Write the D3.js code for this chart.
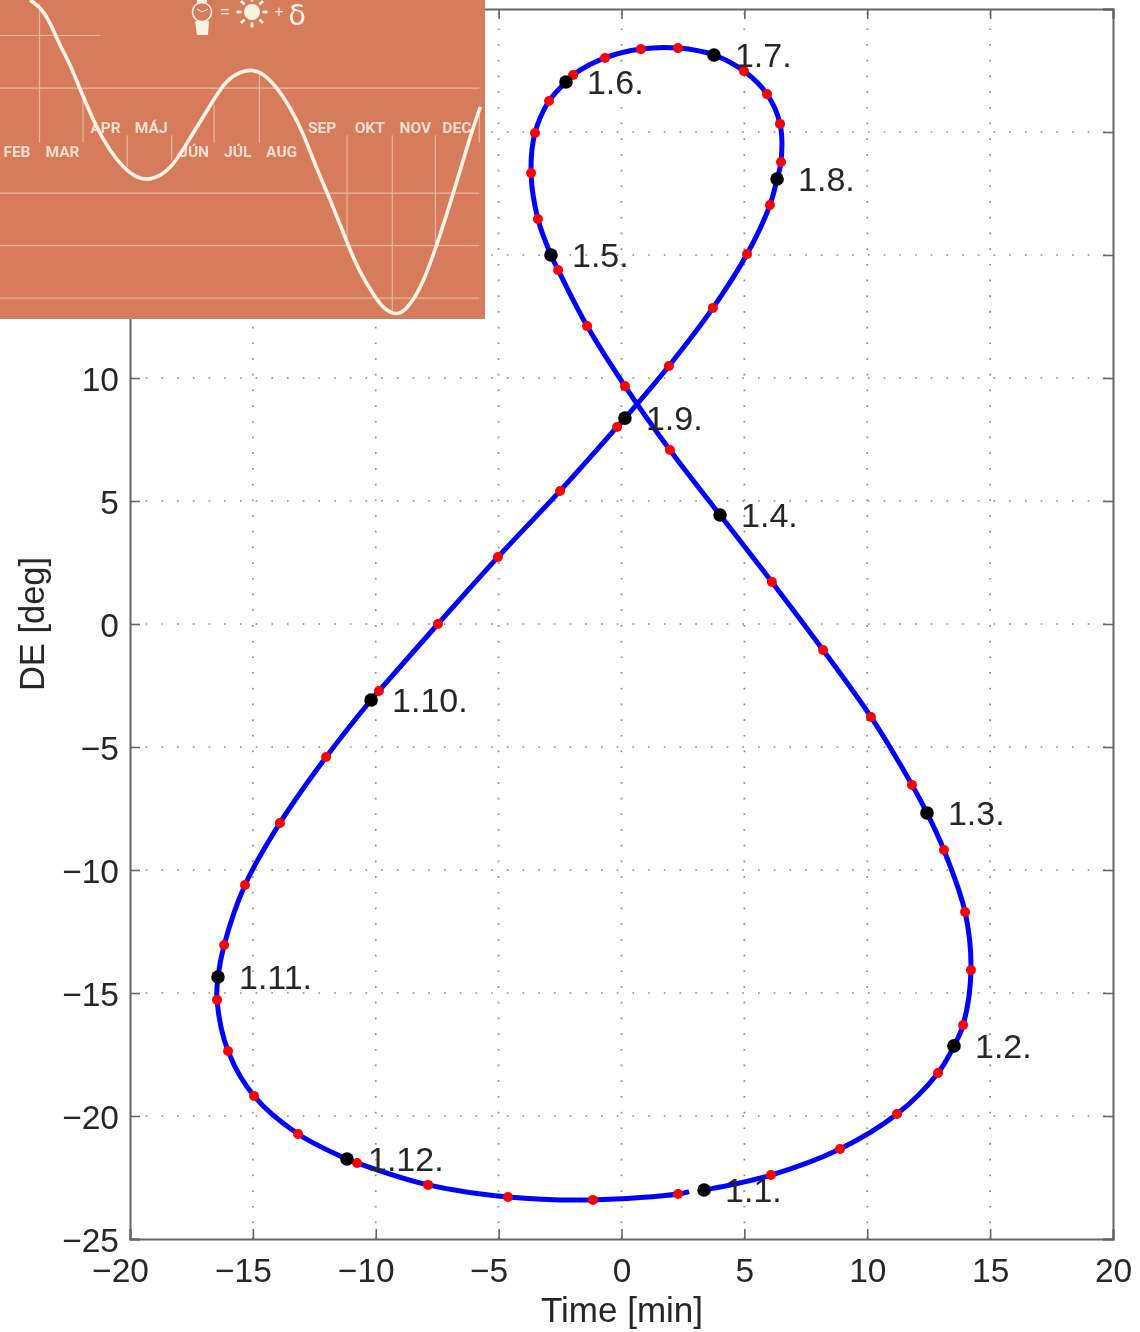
<!DOCTYPE html>
<html><head><meta charset="utf-8">
<script src="https://cdnjs.cloudflare.com/ajax/libs/d3/7.8.5/d3.min.js"></script>
<style>html,body{margin:0;padding:0;background:#fff}svg{display:block}</style>
</head><body><div id="c"></div>
<script>
// Main analemma curve, in calendar order starting at 1.1.; the line stops just short of 1.1. on its way back.
const curveTime=[3.36,6.08,8.89,11.21,12.88,13.53,13.90,14.22,13.98,13.12,12.43,11.82,10.15,8.20,6.12,4.01,1.97,0.14,-1.40,-2.58,-2.87,-3.40,-3.68,-3.52,-2.95,-2.26,-1.97,-0.67,0.79,2.30,3.76,4.98,5.92,6.45,6.49,6.33,6.04,5.11,3.72,1.93,0.14,-0.18,-2.50,-5.03,-7.47,-9.87,-10.19,-12.02,-13.90,-15.32,-16.17,-16.42,-16.46,-16.01,-14.95,-13.16,-11.17,-10.76,-7.87,-4.62,-1.16,2.30,2.75];
const curveDe=[-23.01,-22.40,-21.34,-19.92,-18.25,-17.15,-16.30,-14.07,-11.71,-9.19,-7.68,-6.54,-3.78,-1.06,1.71,4.43,7.07,9.67,12.11,14.39,15.00,16.46,18.33,19.96,21.26,22.03,22.32,23.01,23.37,23.41,23.13,22.48,21.54,20.33,18.78,18.09,17.03,15.04,12.85,10.49,8.37,8.01,5.41,2.72,0,-2.72,-3.09,-5.41,-8.09,-10.61,-13.05,-14.35,-15.28,-17.36,-19.19,-20.73,-21.75,-21.91,-22.80,-23.29,-23.41,-23.17,-23.07];
const blackIndex=[0,5,10,15,20,25,30,35,40,46,51,56];
const blackLabels=["1.1.","1.2.","1.3.","1.4.","1.5.","1.6.","1.7.","1.8.","1.9.","1.10.","1.11.","1.12."];
const xTicks=[-20,-15,-10,-5,0,5,10,15,20];
const yTicks=[-25,-20,-15,-10,-5,0,5,10,15,20,25];
const yTickLabels=["\u221225","\u221220","\u221215","\u221210","\u22125","0","5","10","","",""];
// Inset: equation of time
const eotDay=[53.4,60.4,67.3,74.3,81.2,90.5,99.8,109.1,118.4,126.5,134.6,143.9,153.2,162.5,171.8,181.1,190.3,199.6,207.8,215.9,225.2,234.5,243.7,253.0,262.3,273.9,283.2,292.5,299.5,307.6,315.7,325.0,334.3,343.5,352.8,359.8,366.8];
const eotMin=[-13.38,-12.59,-11.16,-9.10,-7.19,-4.17,-1.32,0.9,2.49,3.36,3.67,3.29,2.17,0.27,-1.79,-3.86,-5.60,-6.46,-6.68,-6.24,-4.97,-3.06,-0.52,2.65,5.67,9.63,12.5,14.65,15.88,16.46,15.88,13.92,10.75,6.94,2.81,-0.37,-3.22];
const monthNames=["FEB","MAR","APR","MÁJ","JÚN","JÚL","AUG","SEP","OKT","NOV","DEC"];
const monthMid=[44.3,76,106,137.7,167.6,197.9,228.5,256.7,289.8,321.5,350.4];
const monthRow=[1,1,0,0,1,1,1,0,0,0,0];
const vDay=[60,90.3,121,152,181.5,213,274,305.5,335.5,366];
const vFrom=[-13,-4,-0.5,-0.5,-3.4,-6.2,-0.5,-0.5,-0.5,-2.9];
const vTo=[0.2,0.2,2.5,1.9,0.2,0.2,10.1,16.3,10.4,0.2];
const hMin=[-10,-5,5,10,15];
const hEndDay=[102,366,366,366,366];

const W=1140,H=1332;
const svg=d3.select("#c").append("svg").attr("width",W).attr("height",H).attr("viewBox",[0,0,W,H]);
const defs=svg.append("defs");
defs.append("filter").attr("id","soft").append("feGaussianBlur").attr("stdDeviation",0.55);
defs.append("filter").attr("id","soft2").append("feGaussianBlur").attr("stdDeviation",0.4);
const font="'Liberation Sans',Arial,sans-serif";
const x=d3.scaleLinear().domain([-20,20]).range([130,1113]);
const y=d3.scaleLinear().domain([-25,25]).range([1239,9]);
const axisCol="#666", txt="#262626";
const main=svg.append("g").attr("filter","url(#soft2)");

// grid
const grid=main.append("g").attr("stroke","#8a8a8a").attr("stroke-width",1.7).attr("stroke-dasharray","1.7 14");
grid.selectAll(".v").data(xTicks.slice(1,-1)).join("line").attr("x1",d=>x(d)).attr("x2",d=>x(d)).attr("y1",y(-25)).attr("y2",y(25));
grid.selectAll(".h").data(yTicks.slice(1,-1)).join("line").attr("x1",x(-20)).attr("x2",x(20)).attr("y1",d=>y(d)).attr("y2",d=>y(d));

// axes (bottom+left with labels, top+right ticks only)
function style(g){g.select(".domain").attr("stroke",axisCol).attr("stroke-width",2);g.selectAll(".tick line").attr("stroke",axisCol).attr("stroke-width",1.6);}
const fmt=d=>String(d).replace("-","\u2212");
main.append("g").attr("transform",`translate(0,${y(-25)})`).call(d3.axisBottom(x).tickValues(xTicks).tickSize(-10).tickPadding(0).tickFormat(fmt)).call(style)
 .call(g=>g.selectAll("text").attr("font-family",font).attr("font-size",33.5).attr("fill",txt).attr("dy",0).attr("y",43).attr("dx",d=>d<0?-10:0));
main.append("g").attr("transform",`translate(0,${y(25)})`).call(d3.axisTop(x).tickValues(xTicks).tickSize(-10).tickFormat("")).call(style);
main.append("g").attr("transform",`translate(${x(-20)},0)`).call(d3.axisLeft(y).tickValues(yTicks).tickSize(-10).tickPadding(0).tickFormat((d,i)=>yTickLabels[i])).call(style)
 .call(g=>g.selectAll("text").attr("font-family",font).attr("font-size",33.5).attr("fill",txt).attr("x",-11).attr("dy","0.36em"));
main.append("g").attr("transform",`translate(${x(20)},0)`).call(d3.axisRight(y).tickValues(yTicks).tickSize(-10).tickFormat("")).call(style);

// curve
const line=d3.line().x(d=>x(d[0])).y(d=>y(d[1])).curve(d3.curveCatmullRom.alpha(0.5));
const pts=d3.zip(curveTime,curveDe);
main.append("path").datum(pts).attr("d",line).attr("fill","none").attr("stroke","#0000ff").attr("stroke-width",5);
const redPts=pts.slice(0,-1).filter((d,i)=>!blackIndex.includes(i));
main.selectAll(".r").data(redPts).join("circle").attr("cx",d=>x(d[0])).attr("cy",d=>y(d[1])).attr("r",5).attr("fill","#ff0000");
const blackPts=blackIndex.map(i=>pts[i]);
main.selectAll(".b").data(blackPts).join("circle").attr("cx",d=>x(d[0])).attr("cy",d=>y(d[1])).attr("r",6.8).attr("fill","#000");
main.selectAll(".l").data(blackPts).join("text").attr("x",d=>x(d[0])+21).attr("y",d=>y(d[1])+12).text((d,i)=>blackLabels[i]).attr("font-family",font).attr("font-size",34).attr("fill",txt);

// axis titles
main.append("text").attr("x",622).attr("y",1322).attr("text-anchor","middle").attr("font-family",font).attr("font-size",35).attr("fill",txt).text("Time [min]");
main.append("text").attr("transform","translate(44,624) rotate(-90)").attr("text-anchor","middle").attr("font-family",font).attr("font-size",34.5).attr("fill",txt).text("DE [deg]");

// inset
const ix=d3.scaleLinear().domain([32.5,370]).range([0,485]);
const iy=d3.scaleLinear().domain([-13.38,16.46]).range([0,313.5]);
const bg="#d67c5c",cream="#fdf3e3";
const ins=svg.append("g");
ins.append("rect").attr("x",0).attr("y",0).attr("width",485).attr("height",319).attr("fill",bg);
const clip=defs.append("clipPath").attr("id","ic");clip.append("rect").attr("width",485).attr("height",319);
const ing=ins.append("g").attr("clip-path","url(#ic)").attr("filter","url(#soft)");
const gl=ing.append("g").attr("stroke","#eab8a0").attr("stroke-width",1.2);
gl.selectAll(".h").data(hMin).join("line").attr("x1",0).attr("x2",(d,i)=>ix(hEndDay[i])).attr("y1",d=>iy(d)).attr("y2",d=>iy(d));
gl.selectAll(".v").data(vDay).join("line").attr("x1",d=>ix(d)).attr("x2",d=>ix(d)).attr("y1",(d,i)=>iy(vFrom[i])).attr("y2",(d,i)=>iy(vTo[i]));
ing.selectAll(".m").data(monthNames).join("text").attr("x",(d,i)=>ix(monthMid[i])).attr("y",(d,i)=>monthRow[i]?157:132.5)
 .attr("text-anchor","middle").attr("font-family","Roboto,'Open Sans',sans-serif").attr("font-weight",700).attr("font-size",15.5).attr("fill","#f8dfce").text(d=>d);
ing.append("path").datum(d3.zip(eotDay,eotMin)).attr("d",d3.line().x(d=>ix(d[0])).y(d=>iy(d[1])).curve(d3.curveNatural)).attr("fill","none").attr("stroke",cream).attr("stroke-width",3.6);
// formula icons
const ic=ing.append("g");
ic.append("circle").attr("cx",202).attr("cy",12).attr("r",9.5).attr("fill","none").attr("stroke",cream).attr("stroke-width",1.6);
ic.append("path").attr("d","M202 12L197 9M202 12L208 9").attr("fill","none").attr("stroke",cream).attr("stroke-width",1);
ic.append("path").attr("d","M195 21H209L208 35H197Z").attr("fill",cream);
ic.append("rect").attr("x",197).attr("y",0).attr("width",10).attr("height",2.5).attr("fill",cream);
ic.append("circle").attr("cx",252).attr("cy",12).attr("r",8).attr("fill",cream);
d3.range(8).forEach(k=>{const a=k*Math.PI/4;const c=Math.cos(a),s=Math.sin(a);
 ic.append("path").attr("d",`M${252+10.5*c} ${12+10.5*s}L${252+15.5*c} ${12+15.5*s}`).attr("stroke",cream).attr("stroke-width",2.8);});
ic.append("text").attr("x",225).attr("y",17).attr("text-anchor","middle").attr("font-family",font).attr("font-size",16).attr("fill",cream).text("=");
ic.append("text").attr("x",279).attr("y",17).attr("text-anchor","middle").attr("font-family",font).attr("font-size",16).attr("fill",cream).text("+");
ic.append("text").attr("x",297).attr("y",25).attr("text-anchor","middle").attr("font-family","'DejaVu Sans',sans-serif").attr("font-size",29).attr("fill",cream).text("δ");
</script></body></html>
